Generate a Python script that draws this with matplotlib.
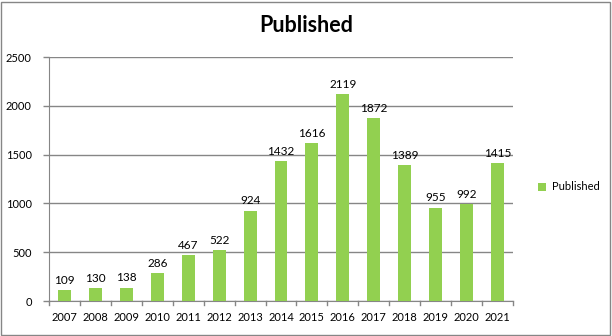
import numpy as np
import matplotlib
matplotlib.use("Agg")
from matplotlib import pyplot as plt
from matplotlib.patches import Rectangle

years = ["2007", "2008", "2009", "2010", "2011", "2012", "2013", "2014",
         "2015", "2016", "2017", "2018", "2019", "2020", "2021"]
published = [109, 130, 138, 286, 467, 522, 924, 1432, 1616, 2119, 1872, 1389, 955, 992, 1415]
y_ticks = [0, 500, 1000, 1500, 2000, 2500]

plt.rcParams['font.family'] = ['Lato', 'DejaVu Sans']
green = "#92D050"
grid = "#868686"

fig = plt.figure(figsize=(6.12, 3.36), dpi=100)
ax = fig.add_axes([49/612, 1-301/336, (513-49)/612, (301-57)/336])

x = np.arange(len(years))
bars = ax.bar(x, published, width=0.42, color=green, zorder=3, label="Published")
for xi, v in zip(x, published):
    ax.text(xi, v + 45, str(v), ha="center", va="bottom", fontsize=8.5, color="black")

ax.set_xlim(-0.5, len(years) - 0.5)
ax.set_ylim(0, 2500)
ax.set_yticks(y_ticks)
ax.set_yticklabels([str(t) for t in y_ticks], fontsize=8)
ax.set_xticks(x)
ax.set_xticklabels(years, fontsize=8)
ax.tick_params(axis="x", length=0, pad=8)
ax.tick_params(axis="y", length=4.5, color=grid, width=1, pad=8)
# category separators on the x axis
for b in np.arange(-0.5, len(years), 1.0):
    ax.plot([b, b], [0, -0.018], color=grid, lw=1, clip_on=False,
            transform=ax.get_xaxis_transform())

ax.yaxis.grid(True, color=grid, lw=1, zorder=0)
for s in ["top", "right"]:
    ax.spines[s].set_visible(False)
ax.spines["left"].set_color(grid)
ax.spines["bottom"].set_color(grid)

fig.text(306/612, 1-25/336, "Published", ha="center", va="center", fontsize=15.5, fontweight="bold")
fig.legend(handles=[bars], loc="center left", bbox_to_anchor=(528/612, 1-187/336),
           frameon=False, fontsize=8, handlelength=0.7, handleheight=0.7, handletextpad=0.6)

fig.patches.append(Rectangle((1/612, 1/336), 1-3/612, 1-3/336, transform=fig.transFigure,
                             fill=False, edgecolor=grid, lw=1))

fig.savefig("out.png", dpi=100)
